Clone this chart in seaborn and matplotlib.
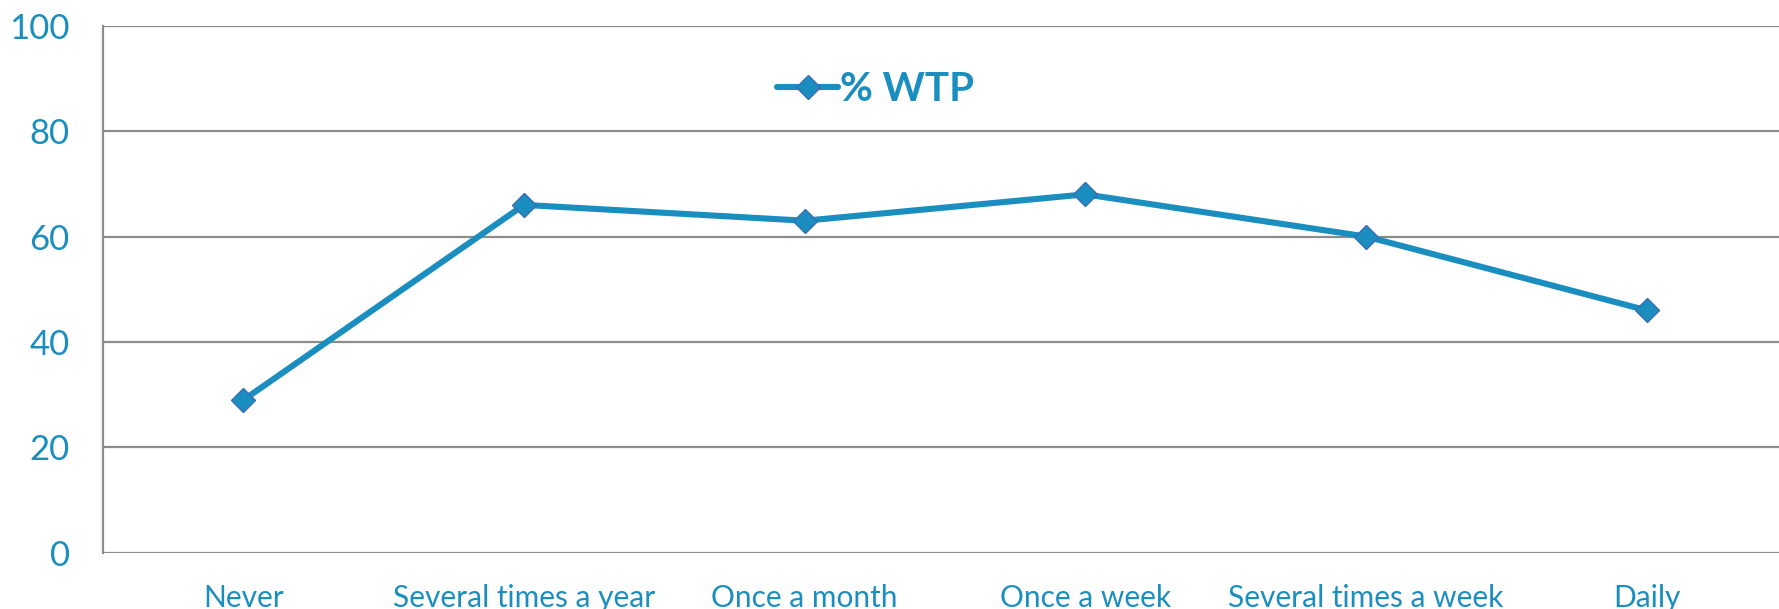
import numpy as np
import pandas as pd
import seaborn as sns
import matplotlib.pyplot as plt
from matplotlib.ticker import FixedLocator

categories = ["Never", "Several times a year", "Once a month",
              "Once a week", "Several times a week", "Daily"]
wtp_values = [29, 66, 63, 68, 60, 46]
y_ticks = [0, 20, 40, 60, 80, 100]

blue = "#1B8EC0"
grid_grey = "#8C8C8C"

sns.set_style("white")
plt.rcParams['font.family'] = ['Lato', 'DejaVu Sans']

df = pd.DataFrame({"category": categories, "% WTP": wtp_values})

fig = plt.figure(figsize=(17.79, 6.09), dpi=100)
ax = fig.add_axes([0.0579, 0.092, 0.9421, 0.866])

sns.lineplot(data=df, x="category", y="% WTP", ax=ax, color=blue,
             linewidth=4.4, marker="D", markersize=12,
             markerfacecolor=blue, markeredgecolor="#3A6DB0",
             markeredgewidth=1.0, label="% WTP", sort=False)

ax.set_ylim(0, 100)
ax.set_xlim(-0.5, 5.471)
ax.set_yticks(y_ticks)
ax.set_yticklabels([str(v) for v in y_ticks])

# category boundaries as major ticks, labels on minor ticks
ax.xaxis.set_major_locator(FixedLocator(np.arange(-0.5, 6.0, 1.0)))
ax.xaxis.set_major_formatter(plt.NullFormatter())
ax.xaxis.set_minor_locator(FixedLocator(np.arange(len(categories))))
ax.set_xticklabels(categories, minor=True)
ax.tick_params(axis="x", which="major", direction="out", length=7,
               width=1.5, color=grid_grey)
ax.tick_params(axis="x", which="minor", length=0, pad=22,
               labelsize=21.5, labelcolor=blue)
ax.tick_params(axis="y", direction="out", length=8, width=1.5,
               color=grid_grey, labelsize=25, labelcolor=blue, pad=16)

ax.yaxis.grid(True, color=grid_grey, linewidth=1.6)
ax.set_axisbelow(True)
for side in ["top", "right", "bottom"]:
    ax.spines[side].set_visible(False)
ax.spines["left"].set_color(grid_grey)
ax.spines["left"].set_linewidth(1.6)
ax.set_xlabel("")
ax.set_ylabel("")

leg = ax.legend(loc="center", bbox_to_anchor=(0.461, 0.878), frameon=False,
                handlelength=1.5, handletextpad=0.05,
                prop={"size": 29, "weight": "bold"})
for t in leg.get_texts():
    t.set_color(blue)

fig.savefig("out.png", dpi=100)
